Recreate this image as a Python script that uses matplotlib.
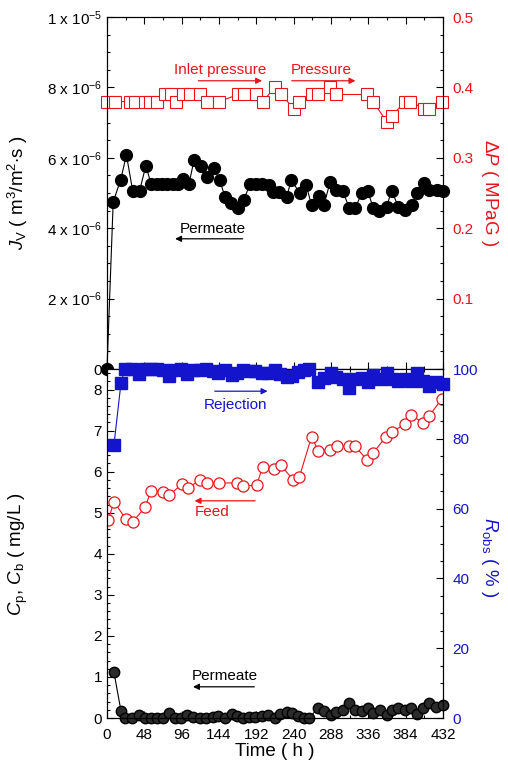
import matplotlib.pyplot as plt
from matplotlib.ticker import MultipleLocator, FixedLocator

plt.rcParams['font.family'] = ['Liberation Sans', 'DejaVu Sans']
plt.rcParams['mathtext.fontset'] = 'custom'
plt.rcParams['mathtext.rm'] = 'Liberation Sans'
plt.rcParams['mathtext.it'] = 'Liberation Sans:italic'
plt.rcParams['mathtext.bf'] = 'Liberation Sans:bold'

RED = '#e8141c'
BLUE = '#1414cc'

# --- top panel: permeate flux Jv (x 1e-6 m3/m2 s) and pressure (MPaG)
t_jv = [0, 8, 17.5, 25, 33, 42, 50, 56.5, 64, 70.5, 77.5, 84.5, 91.5, 98, 105.5,
        112, 121, 128, 137.5, 145, 151.5, 159, 169, 176, 184, 191, 199, 208.5,
        213, 221.5, 231, 237, 248, 256, 263, 272, 279, 287, 294.5, 303, 311.5,
        319, 327.5, 335, 342.5, 350, 359.5, 366, 374.5, 383, 392, 399, 407,
        414.5, 424, 431.5]
jv = [0, 4.75, 5.37, 6.08, 5.07, 5.07, 5.78, 5.27, 5.27, 5.27, 5.27, 5.27, 5.27,
      5.39, 5.27, 5.94, 5.77, 5.46, 5.70, 5.37, 4.90, 4.71, 4.57, 4.80, 5.27,
      5.27, 5.25, 5.24, 5.04, 5.04, 4.89, 5.37, 4.99, 5.23, 4.66, 4.91, 4.66,
      5.32, 5.09, 5.07, 4.57, 4.57, 4.99, 5.07, 4.57, 4.50, 4.61, 5.07, 4.61,
      4.52, 4.66, 4.99, 5.28, 5.09, 5.09, 5.07]

t_dp = [0, 10, 29, 36, 49, 55, 64, 75, 82, 89, 98, 107, 120, 128, 144, 169, 176,
        192, 200, 216, 224, 240, 247, 263, 271, 287, 295, 334, 342, 360, 367,
        383, 390, 407, 414, 431]
dp = [0.38, 0.38, 0.38, 0.38, 0.38, 0.38, 0.38, 0.39, 0.39, 0.38, 0.39, 0.39,
      0.39, 0.38, 0.38, 0.39, 0.39, 0.39, 0.38, 0.40, 0.39, 0.37, 0.38, 0.39,
      0.39, 0.40, 0.39, 0.39, 0.38, 0.351, 0.36, 0.38, 0.38, 0.37, 0.37, 0.38]

# --- bottom panel: feed / permeate concentration (mg/L) and rejection (%)
t_cb = [1.7, 9, 24.4, 33, 49, 56.6, 72.4, 80, 96.8, 103.7, 119.6, 128.2, 144.4,
        166.7, 174.4, 192.4, 200, 215, 223.3, 239.6, 247.2, 263, 271.7, 286.7,
        295.3, 311.6, 318.9, 334.7, 342.4, 358.7, 366, 383, 390.4, 406.7, 414.4,
        430.3]
cb = [4.82, 5.27, 4.84, 4.78, 5.13, 5.54, 5.50, 5.43, 5.70, 5.59, 5.80, 5.72,
      5.72, 5.73, 5.65, 5.67, 6.11, 6.06, 6.16, 5.80, 5.86, 6.85, 6.51, 6.53,
      6.62, 6.62, 6.62, 6.28, 6.46, 6.85, 6.97, 7.15, 7.38, 7.19, 7.36, 7.77]

t_cp = [9, 18, 23, 32, 41.5, 49, 56.6, 64, 71.6, 79.7, 87.4, 94.8, 103.3, 111,
        119.6, 127.3, 136, 143, 151.7, 160.3, 166.7, 175.3, 183, 190.3, 199,
        207.4, 216, 222.4, 231, 237.5, 246, 253, 260, 271.6, 279.3, 287.4, 295,
        303, 311.4, 318.7, 327.3, 336, 342.3, 351, 359.5, 366, 374.5, 383,
        390.4, 399, 406.7, 414.4, 423, 431.6]
cp = [1.11, 0.17, 0.0, 0.0, 0.07, 0.0, 0.0, 0.0, 0.01, 0.11, 0.01, 0.0, 0.07,
      0.02, 0.01, 0.0, 0.03, 0.06, 0.01, 0.09, 0.06, 0.01, 0.03, 0.03, 0.06,
      0.07, 0.01, 0.09, 0.14, 0.11, 0.05, 0.01, 0.0, 0.25, 0.17, 0.07, 0.15,
      0.20, 0.36, 0.20, 0.17, 0.24, 0.11, 0.20, 0.07, 0.20, 0.25, 0.20, 0.25,
      0.09, 0.25, 0.36, 0.28, 0.32]
robs = [78.3, 96.0, 100, 100, 98.6, 100, 100, 100, 99.8, 98.0, 99.8, 100, 98.7,
        99.6, 99.8, 100, 99.5, 98.9, 99.8, 98.4, 98.9, 99.8, 99.5, 99.5, 99.0,
        98.8, 99.8, 98.5, 97.6, 98.1, 99.1, 99.8, 100, 96.3, 97.4, 98.9, 97.7,
        97.0, 94.5, 97.0, 97.4, 96.2, 98.3, 97.0, 99.0, 97.1, 96.5, 97.2, 96.6,
        98.8, 96.5, 95.1, 96.2, 95.8]

time_ticks = [0, 48, 96, 144, 192, 240, 288, 336, 384, 432]
jv_ticks = [0, 2, 4, 6, 8, 10]
jv_tick_labels = ['0', '2 x 10$^{-6}$', '4 x 10$^{-6}$', '6 x 10$^{-6}$',
                  '8 x 10$^{-6}$', '1 x 10$^{-5}$']

fig = plt.figure(figsize=(5.08, 7.68), dpi=100)
ax1 = fig.add_axes([0.2106, 0.5195, 0.6614, 0.4583])
ax1r = ax1.twinx()
ax2 = fig.add_axes([0.2106, 0.0651, 0.6614, 0.4544])
ax2r = ax2.twinx()

# top panel
ax1.plot(t_jv, jv, '-o', color='black', lw=0.8, ms=8.5, clip_on=False, zorder=3)
ax1r.plot(t_dp, dp, '-s', color=RED, mfc='white', mec=RED, lw=0.8, ms=9,
          mew=0.8, clip_on=False)

# bottom panel
ax2.plot(t_cb, cb, '-o', color=RED, mfc='white', mec=RED, lw=0.8, ms=8, mew=0.9)
ax2.plot(t_cp, cp, '-o', color='black', mfc='#2b2b2b', mec='black', lw=0.8,
         ms=7.5, clip_on=False)
ax2r.plot(t_cp, robs, '-s', color=BLUE, lw=0.8, ms=8.5, clip_on=False, zorder=5)

for ax in (ax1, ax2):
    ax.set_xlim(0, 432)
    ax.xaxis.set_major_locator(FixedLocator(time_ticks))
    ax.xaxis.set_minor_locator(MultipleLocator(24))
    ax.tick_params(axis='x', which='both', direction='in', top=True, bottom=True)
    ax.tick_params(which='major', length=5, width=0.8, labelsize=11)
    ax.tick_params(which='minor', length=2.5, width=0.8)
    ax.tick_params(axis='x', pad=7)
for ax in (ax1r, ax2r):
    ax.tick_params(which='major', direction='in', length=5, width=0.8,
                   labelsize=11, pad=7)
    ax.tick_params(which='minor', direction='in', length=2.5, width=0.8)

ax1.tick_params(axis='x', labelbottom=False)
ax1.set_ylim(0, 10)
ax1.yaxis.set_major_locator(FixedLocator(jv_ticks))
ax1.set_yticklabels(jv_tick_labels)
ax1.yaxis.set_minor_locator(MultipleLocator(0.5))
ax1.tick_params(axis='y', which='both', direction='in')

ax1r.set_ylim(0, 0.5)
ax1r.yaxis.set_major_locator(FixedLocator([0.1, 0.2, 0.3, 0.4, 0.5]))
ax1r.yaxis.set_minor_locator(MultipleLocator(0.025))
ax1r.tick_params(axis='y', colors=RED, which='both')

ax2.set_ylim(0, 8.5)
ax2.yaxis.set_major_locator(MultipleLocator(1))
ax2.yaxis.set_minor_locator(MultipleLocator(0.2))
ax2.tick_params(axis='y', which='both', direction='in')
ax2r.set_ylim(0, 100)
ax2r.yaxis.set_major_locator(MultipleLocator(20))
ax2r.yaxis.set_minor_locator(MultipleLocator(5))
ax2r.tick_params(axis='y', colors=BLUE, which='both')

for ax in (ax1r, ax2r):
    for side in ax.spines:
        ax.spines[side].set_color('black')
    ax.tick_params(axis='y', which='both', color='black')

ax1.set_ylabel(r'$J_{\rm V}$ ( m$^3$/m$^2$$\cdot$s )', fontsize=13.5)
ax1.yaxis.set_label_coords(-0.23, 0.5)
ax1r.set_ylabel(r'$\Delta P$ ( MPaG )', color=RED, fontsize=13.5, rotation=-90)
ax1r.yaxis.set_label_coords(1.17, 0.5)
ax2.set_ylabel(r'$C_{\rm p}$, $C_{\rm b}$ ( mg/L )', fontsize=13.5)
ax2.yaxis.set_label_coords(-0.23, 0.47)
ax2r.set_ylabel(r'$R_{\rm obs}$ ( % )', color=BLUE, fontsize=13.5, rotation=-90)
ax2r.yaxis.set_label_coords(1.17, 0.46)
ax2.set_xlabel('Time ( h )', fontsize=13.5, labelpad=1)

arrow = dict(arrowstyle='-|>', lw=0.9, mutation_scale=9)
ax1.annotate('', xy=(203, 8.19), xytext=(114, 8.19),
             arrowprops=dict(arrow, color=RED))
ax1.text(145, 8.49, 'Inlet pressure', color=RED, fontsize=11, ha='center', va='center')
ax1.annotate('', xy=(323, 8.19), xytext=(234, 8.19),
             arrowprops=dict(arrow, color=RED))
ax1.text(276, 8.49, 'Pressure', color=RED, fontsize=11, ha='center', va='center')
ax1.annotate('', xy=(84, 3.7), xytext=(178, 3.7),
             arrowprops=dict(arrow, color='black'))
ax1.text(136, 3.98, 'Permeate', color='black', fontsize=11, ha='center', va='center')

ax2.annotate('', xy=(210, 7.96), xytext=(135, 7.96),
             arrowprops=dict(arrow, color=BLUE))
ax2.text(165, 7.62, 'Rejection', color=BLUE, fontsize=11, ha='center', va='center')
ax2.annotate('', xy=(109, 5.29), xytext=(194, 5.29),
             arrowprops=dict(arrow, color=RED))
ax2.text(135, 5.02, 'Feed', color=RED, fontsize=11, ha='center', va='center')
ax2.annotate('', xy=(107, 0.76), xytext=(193, 0.76),
             arrowprops=dict(arrow, color='black'))
ax2.text(152, 1.02, 'Permeate', color='black', fontsize=11, ha='center', va='center')

fig.savefig('out.png', dpi=100)
plt.close(fig)
